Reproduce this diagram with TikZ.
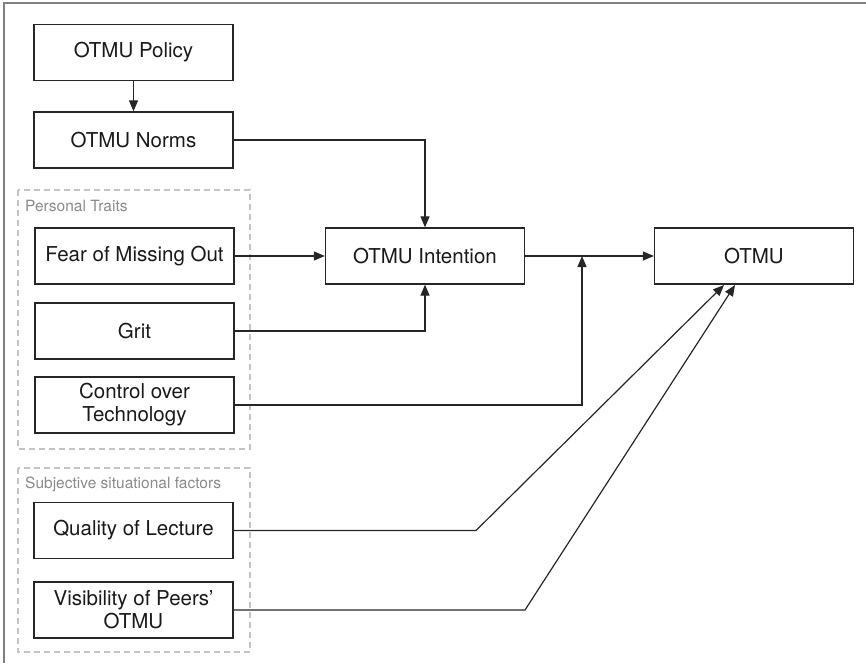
\documentclass[tikz,border=0pt]{standalone}
\usepackage{fontspec}
\setmainfont{TeX Gyre Heros}
\usetikzlibrary{arrows.meta}
\definecolor{framegray}{HTML}{808080}
\definecolor{dashgray}{HTML}{C4C4C4}
\definecolor{labelgray}{HTML}{8A8A8A}
\begin{document}
\begin{tikzpicture}[x=1pt,y=-1pt,
  box/.style={draw=black!85,line width=1.3pt,minimum width=199pt,minimum height=56pt,
    inner sep=0pt,align=center,font=\fontsize{20.5}{23}\selectfont,text=black!90},
  group/.style={draw=dashgray,line width=1.1pt,dash pattern=on 6pt off 4pt},
  grouplabel/.style={anchor=west,inner sep=0pt,text=labelgray,font=\fontsize{15.5}{18}\selectfont},
  conn/.style={draw=black!85,line width=1.2pt},
  arr/.style={conn,-{Triangle[length=11pt,width=9pt]}}]
\useasboundingbox (0,0) rectangle (866,663);
% outer frame (top and left only)
\draw[framegray,line width=2pt] (4,663) -- (4,3) -- (866,3);
% groups
\draw[group] (18,190) rectangle (250,449);
\draw[group] (18,468) rectangle (250,652);
\node[grouplabel] (lpt) at (25,206) {Personal Traits};
\node[grouplabel] (lss) at (25,484) {Subjective situational factors};
% nodes
\node[box] (policy) at (133.5,52.5) {OTMU Policy};
\node[box] (norms) at (133.5,140) {OTMU Norms};
\node[box] (fomo) at (134.5,256) {Fear of Missing Out};
\node[box] (grit) at (134.5,331) {Grit};
\node[box] (control) at (134.5,405) {Control over\\Technology};
\node[box] (quality) at (133.5,530.5) {Quality of Lecture};
\node[box] (vis) at (133.5,610) {Visibility of Peers’\\OTMU};
\node[box] (intent) at (425,256) {OTMU Intention};
\node[box] (otmu) at (754,256) {OTMU};
% helper coordinates
\coordinate (j) at (582,256);
\coordinate (q1) at (476,530.5);
\coordinate (v1) at (525,610);
\coordinate (qt) at (724,285);
\coordinate (vt) at (735,285);
% connectors
\draw[arr] (policy) -- (norms);
\draw[arr] (norms.east) -| (intent.north);
\draw[arr] (fomo) -- (intent);
\draw[arr] (grit.east) -| (intent.south);
\draw[arr] (control.east) -| (j);
\draw[arr] (intent) -- (otmu);
\draw[arr] (quality.east) -- (q1) -- (qt);
\draw[arr] (vis.east) -- (v1) -- (vt);
\end{tikzpicture}
\end{document}
